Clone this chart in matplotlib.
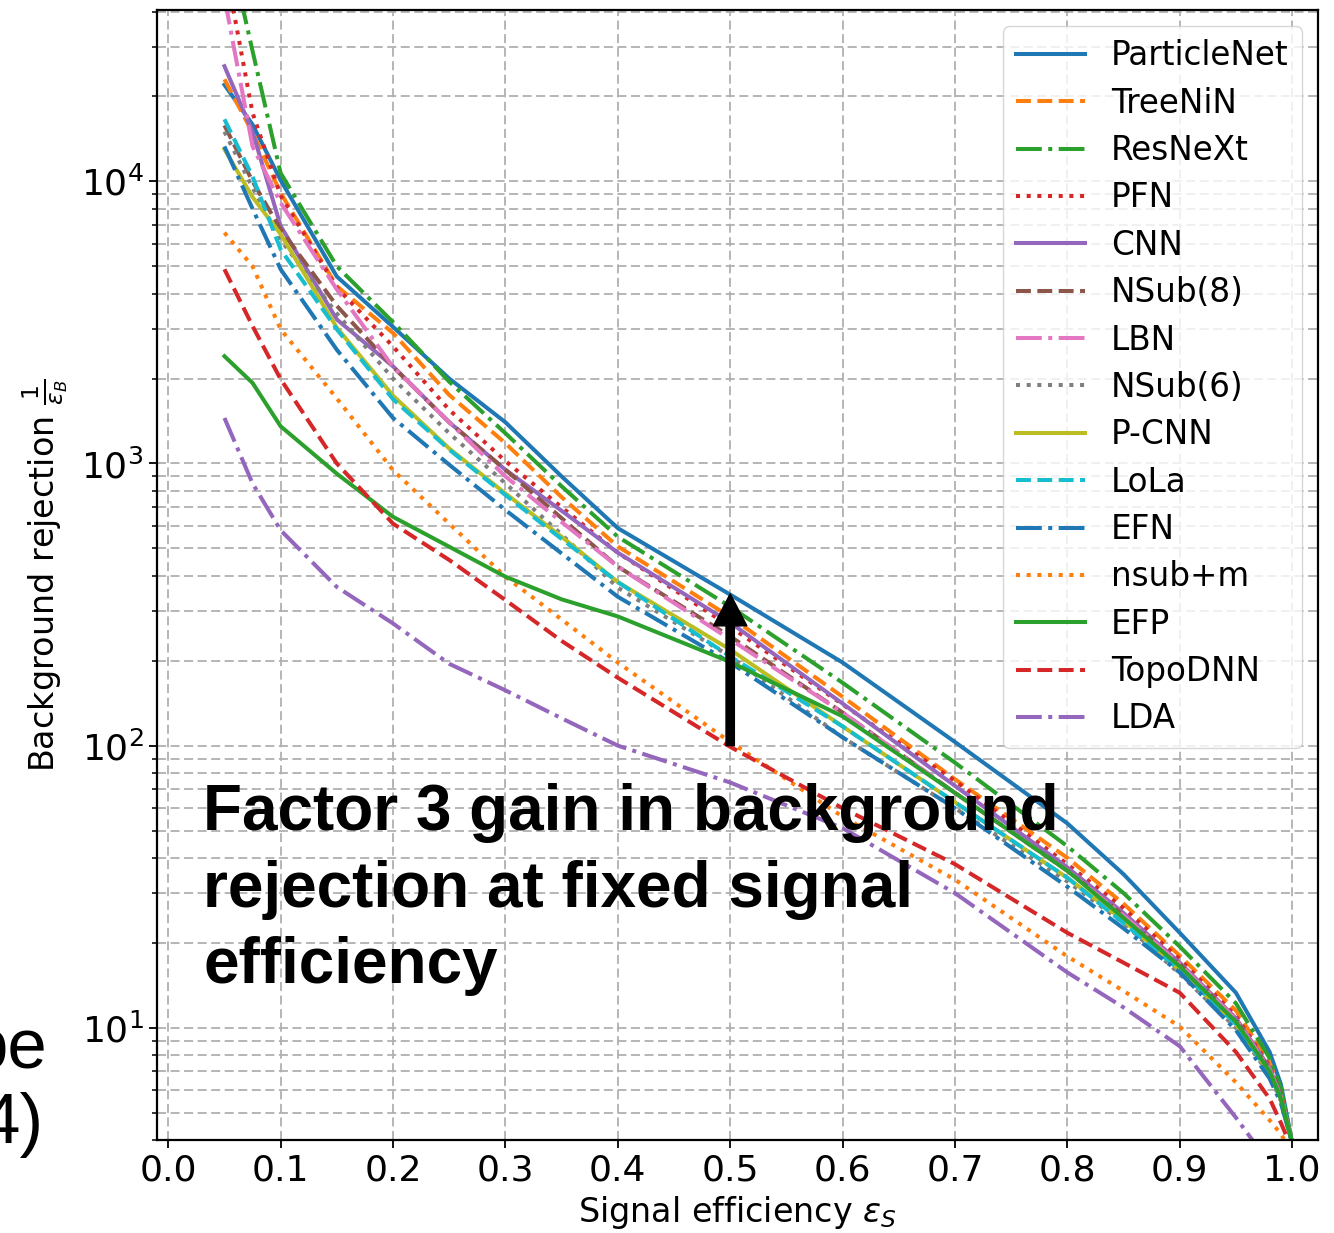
import numpy as np
import matplotlib
matplotlib.use("Agg")
from matplotlib import pyplot as plt

eff = [0.05, 0.075, 0.1, 0.15, 0.2, 0.25, 0.3, 0.35, 0.4, 0.5, 0.6, 0.7, 0.8, 0.85, 0.9, 0.95, 0.98, 0.99, 1.0]

# background rejection 1/eps_B for each tagger
particlenet = [22000, 15900, 10100, 4600, 3050, 2000, 1400, 900, 590, 343, 197, 103, 53, 35, 21.7, 13.3, 8.2, 6.3, 3.9]
treenin = [23000, 14900, 9100, 4250, 2900, 1750, 1180, 760, 508, 286, 149, 76, 40, 27.5, 18, 11.5, 7.5, 5.9, 3.9]
resnext = [80000, 29000, 10700, 5000, 3170, 1950, 1280, 830, 550, 311, 167, 87, 44, 30, 19.4, 12.2, 7.8, 6.1, 3.9]
pfn = [60000, 17500, 8900, 4200, 2600, 1550, 1020, 700, 483, 264, 140, 75, 38, 26.5, 17.5, 11, 7.3, 5.8, 3.9]
cnn = [25600, 15000, 6950, 3240, 2210, 1400, 950, 680, 483, 273, 141, 72, 37, 25.5, 17, 10.8, 7.2, 5.7, 3.9]
nsub8 = [15800, 10000, 6760, 3620, 2200, 1400, 950, 640, 431, 244, 131, 68, 36, 25, 16.8, 10.7, 7.1, 5.7, 3.9]
lbn = [45000, 13300, 8400, 4140, 2200, 1400, 900, 620, 431, 238, 131, 68, 36, 25, 16.8, 10.7, 7.1, 5.7, 3.9]
nsub6 = [15000, 9500, 6200, 3400, 2000, 1280, 850, 560, 363, 207, 107, 60, 33, 23.5, 15.5, 10, 6.8, 5.5, 3.9]
pcnn = [13000, 8800, 6500, 3030, 1740, 1130, 783, 550, 380, 219, 117, 63, 34, 24, 16, 10.3, 6.9, 5.6, 3.9]
lola = [16600, 10400, 5740, 2990, 1690, 1120, 773, 540, 380, 207, 117, 63, 34, 23.5, 16, 10.3, 6.9, 5.6, 3.9]
efn = [13300, 8000, 4880, 2530, 1450, 990, 684, 480, 337, 197, 107, 60, 31.6, 22.5, 15.7, 9.8, 6.6, 5.4, 3.9]
nsubm = [6580, 5000, 2990, 1700, 947, 612, 397, 280, 197, 103, 56, 33.5, 17.9, 13.5, 10.1, 6.4, 4.7, 4.2, 3.6]
efp = [2400, 1930, 1355, 920, 647, 507, 397, 330, 287, 198, 127, 68, 36, 24.5, 16.5, 10.5, 7, 5.6, 3.9]
topodnn = [4880, 3070, 1990, 1000, 612, 455, 328, 235, 174, 99, 60, 38, 21.7, 17, 13.3, 8.2, 5.6, 4.6, 3.7]
lda = [1450, 850, 580, 365, 271, 195, 157, 125, 100, 74, 51, 30, 15.7, 11.8, 8.6, 4.8, 3.3, 2.9, 2.5]

nombres = ["ParticleNet", "TreeNiN", "ResNeXt", "PFN", "CNN", "NSub(8)", "LBN", "NSub(6)",
           "P-CNN", "LoLa", "EFN", "nsub+m", "EFP", "TopoDNN", "LDA"]
curvas = [particlenet, treenin, resnext, pfn, cnn, nsub8, lbn, nsub6,
          pcnn, lola, efn, nsubm, efp, topodnn, lda]
estilos = ["-", "--", "-.", ":"]

fig = plt.figure(figsize=(13.34, 12.33), dpi=100)
ax = fig.add_axes([157/1334, 1-1140/1233, (1318-157)/1334, (1140-10)/1233])

for i in range(len(curvas)):
    ax.plot(eff, curvas[i], color="C%d" % (i % 10), linestyle=estilos[i % 4],
            lw=2.9, label=nombres[i])

ax.set_yscale("log")
ax.set_xlim(-0.01, 1.023)
ax.set_ylim(4.0, 40500)
ax.set_xticks(np.arange(0, 1.01, 0.1))
ax.grid(True, which="major", axis="x", color="#b0b0b0", linestyle=(0, (5, 2.5)), lw=1.3)
ax.grid(True, which="both", axis="y", color="#b0b0b0", linestyle=(0, (5, 2.5)), lw=1.3)
ax.tick_params(axis="both", which="major", labelsize=26, length=6, width=1.3)
ax.tick_params(axis="both", which="minor", length=3.5, width=1.1)
for s in ax.spines.values():
    s.set_linewidth(1.6)

ax.set_xlabel(r"Signal efficiency $\varepsilon_S$", fontsize=24, labelpad=5)
ax.set_ylabel(r"Background rejection $\frac{1}{\varepsilon_B}$", fontsize=24, labelpad=8)

ax.legend(loc="upper right", fontsize=23.5, labelspacing=0.44, handlelength=2.1)

# flecha de ganancia
ax.annotate("", xy=(0.5, 345), xytext=(0.5, 100),
            arrowprops=dict(facecolor="black", edgecolor="black", width=6,
                            headwidth=24, headlength=23, shrink=0))

fig.text(203/1334, 1-983/1233,
         "Factor 3 gain in background\nrejection at fixed signal\nefficiency",
         fontsize=46, fontweight="bold", family="Liberation Sans",
         va="baseline", ha="left", linespacing=1.35)

# restos de texto de la diapositiva
fig.text(47/1334, 1-1067/1233, "be", fontsize=51, family="Liberation Sans",
         ha="right", va="baseline")
fig.text(44/1334, 1-1143/1233, "4)", fontsize=51, family="Liberation Sans",
         ha="right", va="baseline")

fig.savefig("out.png", dpi=100)
